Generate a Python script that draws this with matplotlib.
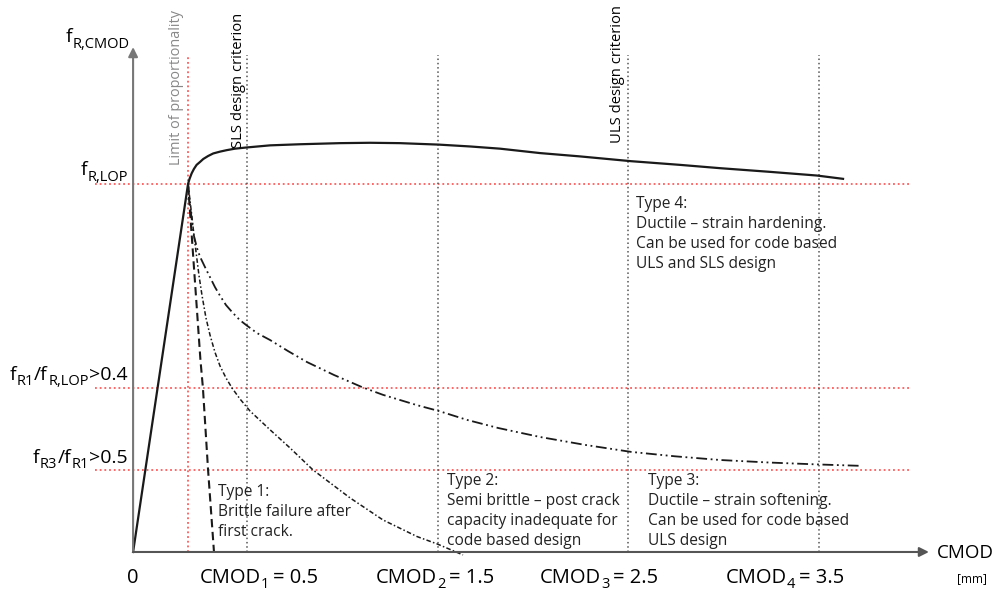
import matplotlib
matplotlib.use('Agg')
import matplotlib.pyplot as plt
from matplotlib.transforms import IdentityTransform

plt.rcParams['font.family'] = ['Open Sans', 'DejaVu Sans']

# Данные: CMOD [mm] и f / f_R,LOP (схема)
x_origin = -0.096
cmod_lop = 0.192
cmod_marks = [0.5, 1.5, 2.5, 3.5]
cmod_names = ['1', '2', '3', '4']
cmod_values = ['0.5', '1.5', '2.5', '3.5']
f_lop = 1.0
f_r1_level = 0.446
f_r3_level = 0.223

# Тип 4: упрочнение (включая начальный линейный участок)
type4_x = [-0.096, 0.192, 0.200, 0.211, 0.223, 0.237, 0.255, 0.272, 0.297, 0.324,
           0.360, 0.395, 0.438, 0.494, 0.622, 0.779, 0.988, 1.146, 1.303, 1.507,
           1.670, 1.827, 2.037, 2.246, 2.514, 2.770, 2.980, 3.242, 3.488, 3.625]
type4_y = [0.0, 1.000, 1.014, 1.029, 1.041, 1.052, 1.060, 1.068, 1.076, 1.083,
           1.088, 1.092, 1.096, 1.099, 1.105, 1.108, 1.111, 1.112, 1.111, 1.107,
           1.102, 1.096, 1.084, 1.075, 1.062, 1.052, 1.043, 1.033, 1.023, 1.014]

# Тип 1: хрупкое разрушение
type1_x = [0.192, 0.213, 0.257, 0.270, 0.297, 0.328]
type1_y = [1.000, 0.848, 0.522, 0.446, 0.223, 0.0]

# Тип 2: полухрупкое
type2_x = [0.192, 0.202, 0.213, 0.223, 0.234, 0.249, 0.265, 0.286, 0.307, 0.333,
           0.360, 0.391, 0.422, 0.464, 0.517, 0.622, 0.726, 0.847, 1.041, 1.214,
           1.392, 1.497, 1.633]
type2_y = [1.000, 0.957, 0.908, 0.861, 0.815, 0.753, 0.698, 0.636, 0.590, 0.543,
           0.505, 0.473, 0.446, 0.416, 0.383, 0.332, 0.283, 0.223, 0.147, 0.087,
           0.042, 0.022, -0.008]

# Тип 3: разупрочнение
type3_x = [0.192, 0.202, 0.213, 0.223, 0.239, 0.255, 0.281, 0.307, 0.333, 0.360,
           0.391, 0.428, 0.464, 0.496, 0.553, 0.622, 0.716, 0.816, 0.957, 1.104,
           1.214, 1.392, 1.507, 1.654, 1.817, 2.037, 2.273, 2.514, 2.744, 2.980,
           3.242, 3.488, 3.724]
type3_y = [1.000, 0.943, 0.897, 0.859, 0.826, 0.802, 0.774, 0.747, 0.720, 0.696,
           0.671, 0.649, 0.630, 0.617, 0.595, 0.576, 0.546, 0.516, 0.481, 0.448,
           0.427, 0.399, 0.383, 0.359, 0.337, 0.3125, 0.291, 0.272, 0.260, 0.250,
           0.243, 0.238, 0.234]

fig = plt.figure(figsize=(10.05, 5.9), dpi=100)
ax = fig.add_axes([0, 0, 1, 1])
ax.set_xlim(-0.7935, 4.4738)
ax.set_ylim(-0.1033, 1.5)
ax.axis('off')


# Текст с индексами: части (строка, размер, сдвиг по y в px, отступ слева в px)
def rich_text(x, y, parts, ha='left', color='black'):
    renderer = fig.canvas.get_renderer()
    px, py = ax.transData.transform((x, y))
    items = []
    cur = px
    for s, size, dy, gap in parts:
        cur += gap
        t = fig.text(cur, py + dy, s, fontsize=size, color=color,
                     transform=IdentityTransform(), ha='left', va='baseline')
        cur += t.get_window_extent(renderer).width
        items.append(t)
    shift = 0
    if ha == 'right':
        shift = cur - px
    elif ha == 'center':
        shift = (cur - px) / 2
    for t in items:
        xx, yy = t.get_position()
        t.set_position((xx - shift, yy))


red = '#ff5a5a'
grey_line = '#555555'
top = 1.351

# Красные пунктирные уровни
for lvl in [f_lop, f_r1_level, f_r3_level]:
    ax.plot([-0.296, 3.976], [lvl, lvl], color=red, lw=1.3, linestyle=(0, (1, 1.6)))
ax.plot([cmod_lop, cmod_lop], [0, top], color=red, lw=1.3, linestyle=(0, (1, 1.6)))

# Серые вертикали CMOD
for xm in cmod_marks:
    ax.plot([xm, xm], [0, top], color=grey_line, lw=1.1, linestyle=(0, (1, 1.8)))

# Оси со стрелками
ax.annotate('', xy=(x_origin, 1.372), xytext=(x_origin, 0),
            arrowprops=dict(arrowstyle='-|>', color='#777777', lw=1.5,
                            mutation_scale=14, shrinkA=0, shrinkB=0))
ax.annotate('', xy=(4.075, 0), xytext=(x_origin, 0),
            arrowprops=dict(arrowstyle='-|>', color='#555555', lw=1.5,
                            mutation_scale=14, shrinkA=0, shrinkB=0))

# Кривые
ax.plot(type4_x, type4_y, color='#1a1a1a', lw=1.6, solid_joinstyle='round')
ax.plot(type1_x, type1_y, color='#1a1a1a', lw=1.5, linestyle=(0, (4, 2.2)))
ax.plot(type2_x, type2_y, color='#1a1a1a', lw=1.1, linestyle=(0, (3, 1.5, 1, 1.5)))
ax.plot(type3_x, type3_y, color='#1a1a1a', lw=1.3, linestyle=(0, (6, 2, 1, 2, 1, 2)))

# Подписи оси Y
fm, fs = 14, 10.5
rich_text(-0.112, 1.386, [('f', fm, 0, 0), ('R,CMOD', fs, -6, 0.5)], ha='right')
rich_text(-0.123, 1.0245, [('f', fm, 0, 0), ('R,LOP', fs, -6, 0.5)], ha='right')
rich_text(-0.123, 0.467, [('f', fm, 0, 0), ('R1', fs, -5, 0.5), ('/f', fm, 0, 0.5),
                          ('R,LOP', fs, -5, 0.5), ('>0.4', fm, 0, 0.5)], ha='right')
rich_text(-0.123, 0.242, [('f', fm, 0, 0), ('R3', fs, -5, 0.5), ('/f', fm, 0, 0.5),
                          ('R1', fs, -5, 0.5), ('>0.5', fm, 0, 0.5)], ha='right')

# Подписи оси X
rich_text(x_origin, -0.084, [('0', 14.5, 0, 0)], ha='center')
label_pos = [0.564, 1.486, 2.346, 3.321]
for xp, nm, val in zip(label_pos, cmod_names, cmod_values):
    rich_text(xp, -0.084, [('CMOD', 14.5, 0, 0), (nm, 10.5, -5, 0.5),
                           ('= ' + val, 14.5, 0, 4)], ha='center')
rich_text(4.118, -0.016, [('CMOD', 13.5, 0, 0)])
ax.text(4.30, -0.071, '[mm]', fontsize=8.5, ha='center', va='center')

# Вертикальные подписи
ax.text(0.134, 1.052, 'Limit of proportionality', fontsize=10.4, color='#888888',
        rotation=90, ha='center', va='bottom')
ax.text(0.459, 1.098, 'SLS design criterion', fontsize=10.6, rotation=90,
        ha='center', va='bottom')
ax.text(2.441, 1.111, 'ULS design criterion', fontsize=10.6, rotation=90,
        ha='center', va='bottom')

# Описания типов
fs_txt = 11.2
ls = 1.35
tc = '#222222'
ax.text(0.349, 0.186, 'Type 1:\nBrittle failure after\nfirst crack.', fontsize=fs_txt,
        ha='left', va='top', linespacing=ls, color=tc)
ax.text(1.549, 0.215, 'Type 2:\nSemi brittle – post crack\ncapacity inadequate for\ncode based design',
        fontsize=fs_txt, ha='left', va='top', linespacing=ls, color=tc)
ax.text(2.603, 0.215, 'Type 3:\nDuctile – strain softening.\nCan be used for code based\nULS design',
        fontsize=fs_txt, ha='left', va='top', linespacing=ls, color=tc)
ax.text(2.540, 0.968, 'Type 4:\nDuctile – strain hardening.\nCan be used for code based\nULS and SLS design',
        fontsize=fs_txt, ha='left', va='top', linespacing=ls, color=tc)

fig.savefig('out.png', dpi=100)
